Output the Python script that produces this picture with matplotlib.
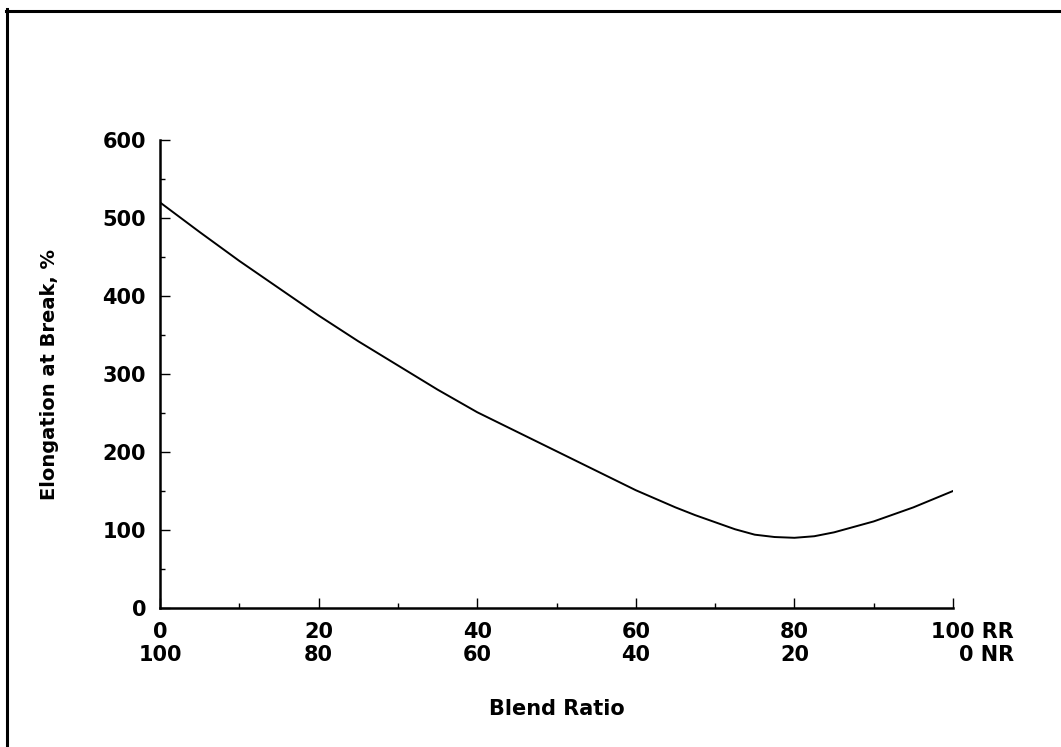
import matplotlib
matplotlib.use('Agg')
import matplotlib.pyplot as plt
import matplotlib.transforms as mtransforms
from matplotlib.lines import Line2D
from matplotlib.ticker import MultipleLocator

# blend ratio (% RR) and elongation at break (%)
rr_pct = [0, 5, 10, 15, 20, 25, 30, 35, 40, 45, 50, 55, 60,
          65, 67.5, 70, 72.5, 75, 77.5, 80, 82.5, 85, 90, 95, 100]
elongation = [520, 482, 445, 410, 375, 342, 311, 280, 251, 226, 201, 176, 151,
              129, 119, 110, 101, 94, 91, 90, 92, 97, 111, 129, 150]

x_ticks = [0, 20, 40, 60, 80, 100]
x_ticklabels = ['0\n100', '20\n80', '40\n60', '60\n40', '80\n20', '']
end_label = '100 RR\n0 NR'

plt.rcParams['font.family'] = 'DejaVu Sans'
plt.rcParams['font.weight'] = 'bold'

fig = plt.figure(figsize=(10.61, 7.47), dpi=100)
ax = fig.add_axes([160 / 1061, 1 - 608 / 747, 793 / 1061, 468 / 747])

ax.plot(rr_pct, elongation, color='black', linewidth=1.4)

ax.set_xlim(0, 100)
ax.set_ylim(0, 600)
for s in ['top', 'right']:
    ax.spines[s].set_visible(False)
for s in ['left', 'bottom']:
    ax.spines[s].set_linewidth(1.8)

ax.set_xticks(x_ticks)
ax.set_xticklabels(x_ticklabels, fontsize=15, fontweight='bold')
ax.xaxis.set_minor_locator(MultipleLocator(10))
ax.yaxis.set_major_locator(MultipleLocator(100))
ax.yaxis.set_minor_locator(MultipleLocator(50))
ax.tick_params(axis='both', which='major', direction='in', length=7.2, width=1.0,
               pad=10, labelsize=15)
ax.tick_params(axis='both', which='minor', direction='in', length=3.6, width=1.0)
for lab in ax.get_yticklabels():
    lab.set_fontweight('bold')

# last x label: "100" centred on the tick, the rest right-aligned under it
trans = mtransforms.offset_copy(ax.get_xaxis_transform(), fig=fig,
                                x=-15.6, y=-10, units='points')
ax.text(100, 0, end_label, transform=trans, ha='left', va='top',
        multialignment='right', fontsize=15, fontweight='bold',
        linespacing=1.2, clip_on=False)

fig.text(556.5 / 1061, 1 - 709 / 747, 'Blend Ratio', ha='center', va='center',
         fontsize=15, fontweight='bold')
fig.text(50 / 1061, 1 - 374 / 747, 'Elongation at Break, %', ha='center',
         va='center', rotation=90, fontsize=14, fontweight='bold')

# frame lines along top and left edge
fig.add_artist(Line2D([6 / 1061, 1], [1 - 10.5 / 747, 1 - 10.5 / 747],
                      transform=fig.transFigure, color='black', linewidth=2.2))
fig.add_artist(Line2D([7 / 1061, 7 / 1061], [0, 1 - 9 / 747],
                      transform=fig.transFigure, color='black', linewidth=2.2))

fig.savefig('out.png', dpi=100)
